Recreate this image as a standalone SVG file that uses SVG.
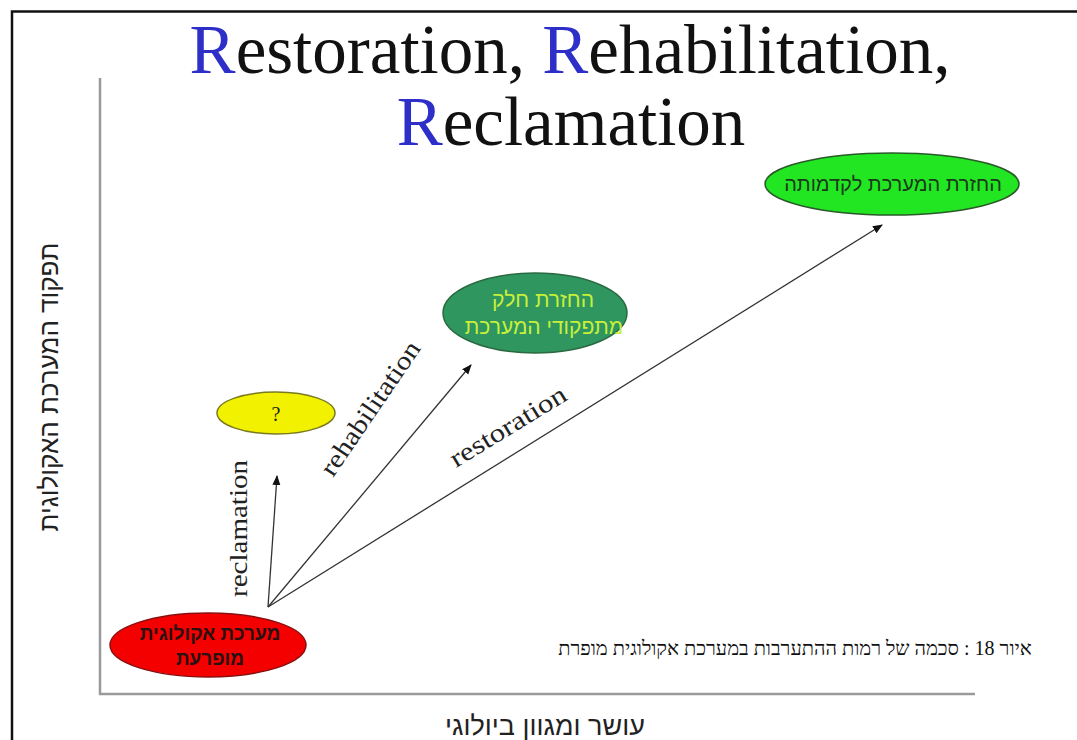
<svg xmlns="http://www.w3.org/2000/svg" width="1077" height="740" viewBox="0 0 1077 740">
<style>
.title{font-family:"Liberation Serif","Times New Roman",serif;font-size:69px;fill:#111;}
.R{fill:#2e2ec8;}
.lbl{font-family:"Liberation Serif","Times New Roman",serif;font-size:26px;fill:#222;}
.heb{font-family:"Liberation Sans","DejaVu Sans",Arial,sans-serif;font-size:19px;}
.axis{fill:none;stroke:#9a9a9a;stroke-width:2.5;}
.conn{fill:none;stroke:#333;stroke-width:1.3;marker-end:url(#ah);}
</style>
<defs>
<marker id="ah" viewBox="0 0 10 10" refX="9" refY="5" markerWidth="10" markerHeight="10" markerUnits="userSpaceOnUse" orient="auto">
<path d="M0,1 L10,5 L0,9 Z" fill="#111"/>
</marker>
</defs>
<rect width="1077" height="740" fill="#fff"/>
<path d="M12,740 V11.5 H1077" fill="none" stroke="#111" stroke-width="2.5"/>
<g id="title">
<text class="title" x="570" y="73" text-anchor="middle"><tspan class="R">R</tspan>estoration, <tspan class="R">R</tspan>ehabilitation,</text>
<text class="title" x="571" y="145" text-anchor="middle"><tspan class="R">R</tspan>eclamation</text>
</g>
<g id="axes">
<path class="axis" d="M100,78 V694 H975"/>
<text class="heb" style="font-size:26px" fill="#222" transform="translate(58,387) rotate(-90)" text-anchor="middle" direction="rtl">תפקוד המערכת האקולוגית</text>
<text class="heb" style="font-size:27px" fill="#222" x="545" y="735" text-anchor="middle" direction="rtl">עושר ומגוון ביולוגי</text>
</g>
<g id="connectors">
<line class="conn" x1="268" y1="607" x2="277" y2="476"/>
<line class="conn" x1="268" y1="607" x2="471" y2="365"/>
<line class="conn" x1="268" y1="607" x2="882" y2="225"/>
<text class="lbl" transform="translate(247,597) rotate(-90)" textLength="137" lengthAdjust="spacingAndGlyphs">reclamation</text>
<text class="lbl" transform="translate(333,478) rotate(-55.7)" textLength="157" lengthAdjust="spacingAndGlyphs">rehabilitation</text>
<text class="lbl" transform="translate(456,468) rotate(-31.4)" textLength="132" lengthAdjust="spacingAndGlyphs">restoration</text>
</g>
<g id="node-disturbed">
<ellipse cx="208" cy="645" rx="98" ry="32" fill="#f40000" stroke="#8a1010" stroke-width="1.5"/>
<text class="heb" x="210" y="640" text-anchor="middle" direction="rtl" font-weight="bold" fill="#2a1010">מערכת אקולוגית</text>
<text class="heb" x="210" y="665" text-anchor="middle" direction="rtl" font-weight="bold" fill="#2a1010">מופרעת</text>
</g>
<g id="node-question">
<ellipse cx="276" cy="413" rx="59" ry="21" fill="#f2f200" stroke="#7a7a20" stroke-width="1.5"/>
<text x="276" y="421" text-anchor="middle" font-family="Liberation Serif,serif" font-size="20" fill="#222">?</text>
</g>
<g id="node-partial">
<ellipse cx="535" cy="313" rx="92" ry="40" fill="#2f9660" stroke="#2a6a40" stroke-width="1.5"/>
<text class="heb" style="font-size:21px" x="543" y="307" text-anchor="middle" direction="rtl" fill="#c8f03a">החזרת חלק</text>
<text class="heb" style="font-size:21px" x="544" y="334" text-anchor="middle" direction="rtl" fill="#c8f03a">מתפקודי המערכת</text>
</g>
<g id="node-restored">
<ellipse cx="892" cy="184" rx="127" ry="31" fill="#22e622" stroke="#2a5a2a" stroke-width="1.5"/>
<text class="heb" style="font-size:20px" x="893" y="191" text-anchor="middle" direction="rtl" fill="#1a3a1a">החזרת המערכת לקדמותה</text>
</g>
<g id="caption">
<text x="795" y="655" text-anchor="middle" direction="rtl" font-family="Liberation Serif,DejaVu Serif,serif" font-size="20" fill="#111">איור 18 : סכמה של רמות ההתערבות במערכת אקולוגית מופרת</text>
</g>
</svg>
